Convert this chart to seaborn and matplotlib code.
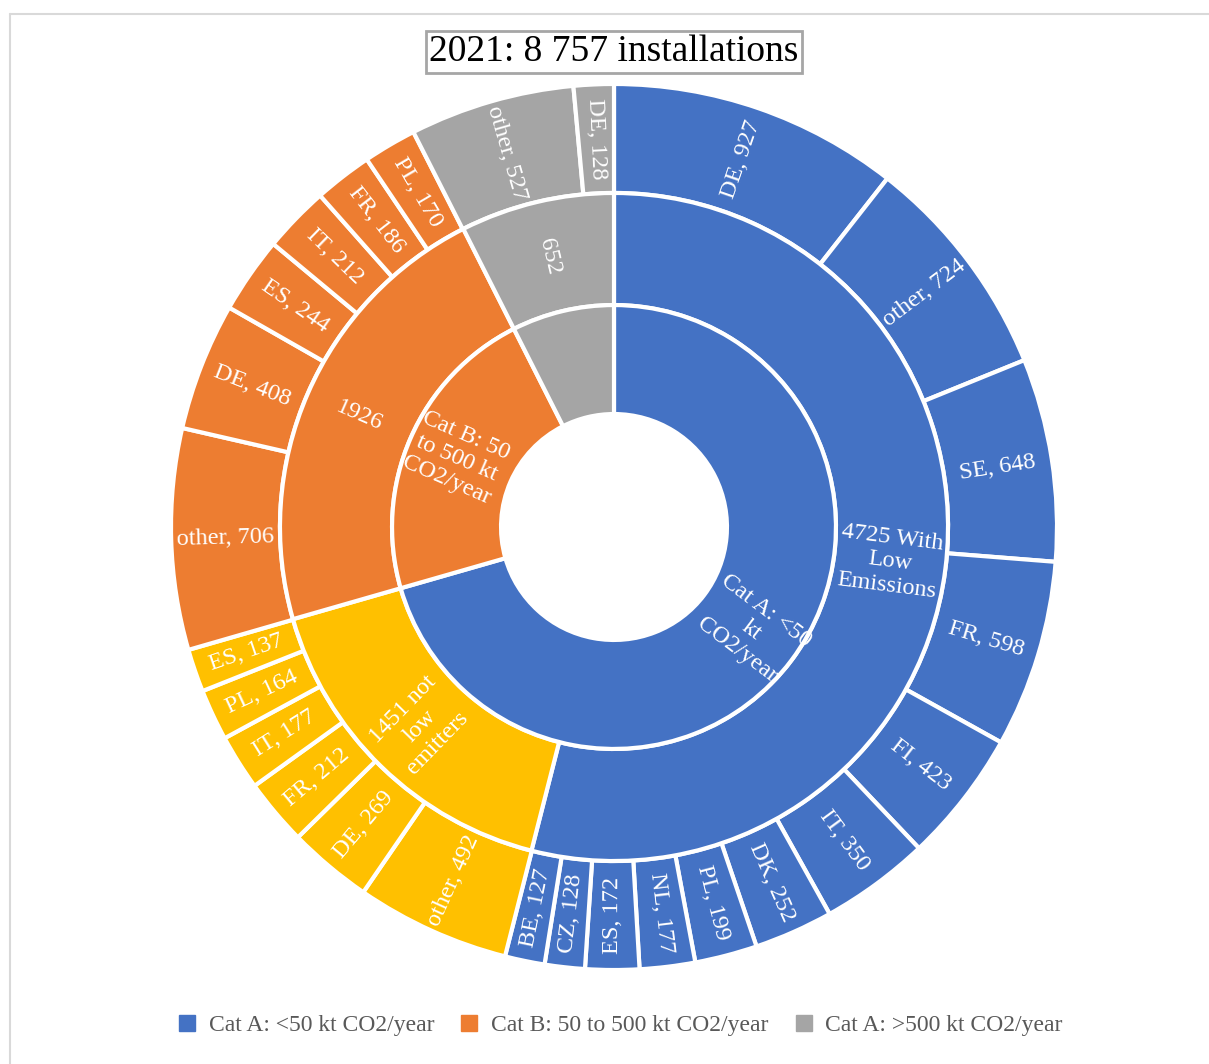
import numpy as np
import matplotlib
matplotlib.use('Agg')
import matplotlib.pyplot as plt
import seaborn as sns
from matplotlib.lines import Line2D

# Data ring dalam / tengah / luar
inner_labels = ['Cat A: <50\nkt\nCO2/year', 'Cat B: 50\nto 500 kt\nCO2/year', '']
inner_values = [6176, 1926, 652]

middle_labels = ['4725 With\nLow\nEmissions', '1451 not\nlow\nemitters', '1926', '652']
middle_values = [4725, 1451, 1926, 652]

outer_countries = ['DE', 'other', 'SE', 'FR', 'FI', 'IT', 'DK', 'PL', 'NL', 'ES', 'CZ', 'BE',
                   'other', 'DE', 'FR', 'IT', 'PL', 'ES',
                   'other', 'DE', 'ES', 'IT', 'FR', 'PL',
                   'other', 'DE']
outer_values = [927, 724, 648, 598, 423, 350, 252, 199, 177, 172, 128, 127,
                492, 269, 212, 177, 164, 137,
                706, 408, 244, 212, 186, 170,
                527, 128]
outer_group = [0] * 12 + [1] * 6 + [2] * 6 + [3] * 2

legend_labels = ['Cat A: <50 kt CO2/year', 'Cat B: 50 to 500 kt CO2/year', 'Cat A: >500 kt CO2/year']
title = '2021: 8 757 installations'

sns.set_theme(style='white')
plt.rcParams['font.family'] = ['Liberation Serif', 'DejaVu Serif']

blue, orange, gray, yellow = '#4472C4', '#ED7D31', '#A5A5A5', '#FFC000'
inner_colors = [blue, orange, gray]
middle_colors = [blue, yellow, orange, gray]
group_colors = [blue, yellow, orange, gray]
outer_colors = [group_colors[g] for g in outer_group]

W, H = 1209, 1064
fig = plt.figure(figsize=(W / 100, H / 100), dpi=100)

# sumbu pie: pusat (614, 527) px, radius luar 443 px
cx, cy, R, half = 614, H - 527, 443, 500
ax = fig.add_axes([(cx - half) / W, (cy - half) / H, 2 * half / W, 2 * half / H])

r_hole, r_in, r_mid, r_out = 0.255, 0.501, 0.754, 1.0
wp = dict(edgecolor='white', linewidth=3)

def ring(values, colors, radius, width):
    wedges, _ = ax.pie(values, radius=radius, colors=colors, startangle=90, counterclock=False,
                       wedgeprops=dict(width=width, **wp))
    return wedges

def put_labels(wedges, labels, r, size=17.5):
    for w, lab in zip(wedges, labels):
        if not lab:
            continue
        a = (w.theta1 + w.theta2) / 2
        a = (a + 180) % 360 - 180
        rot = a - 180 if (a > 90 or a < -90) else a
        x, y = r * np.cos(np.radians(a)), r * np.sin(np.radians(a))
        ax.text(x, y, lab, ha='center', va='center', rotation=rot, rotation_mode='anchor',
                color='white', fontsize=size, linespacing=1.2)

w_out = ring(outer_values, outer_colors, r_out, r_out - r_mid)
w_mid = ring(middle_values, middle_colors, r_mid, r_mid - r_in)
w_in = ring(inner_values, inner_colors, r_in, r_in - r_hole)

# pie mengubah batas sumbu, jadi set ulang di sini
ax.set_xlim(-half / R, half / R)
ax.set_ylim(-half / R, half / R)
ax.axis('off')

outer_text = [f'{c}, {v}' for c, v in zip(outer_countries, outer_values)]
put_labels(w_out, outer_text, (r_out + r_mid) / 2)
put_labels(w_mid, middle_labels, (r_mid + r_in) / 2)
put_labels(w_in, inner_labels, (r_in + r_hole) / 2 + 0.01)

# judul dalam kotak
fig.text(614 / W, 1 - 52 / H, title, ha='center', va='center', fontsize=27, color='black',
         bbox=dict(boxstyle='square,pad=0.1', facecolor='white', edgecolor='#A6A6A6', linewidth=2))

# legenda
handles = [Line2D([], [], marker='s', linestyle='', markersize=11, color=c) for c in [blue, orange, gray]]
leg = fig.legend(handles, legend_labels, loc='center', bbox_to_anchor=(620 / W, 1 - 1025 / H), ncol=3,
                 frameon=False, fontsize=17, handlelength=0.8, handletextpad=0.5, columnspacing=1.1)
for t in leg.get_texts():
    t.set_color('#595959')

# bingkai chart
fig.add_artist(Line2D([10 / W, 1], [1 - 14 / H, 1 - 14 / H], color='#D9D9D9', linewidth=1.5))
fig.add_artist(Line2D([10 / W, 10 / W], [0, 1 - 14 / H], color='#D9D9D9', linewidth=1.5))

fig.savefig('out.png', dpi=100)
